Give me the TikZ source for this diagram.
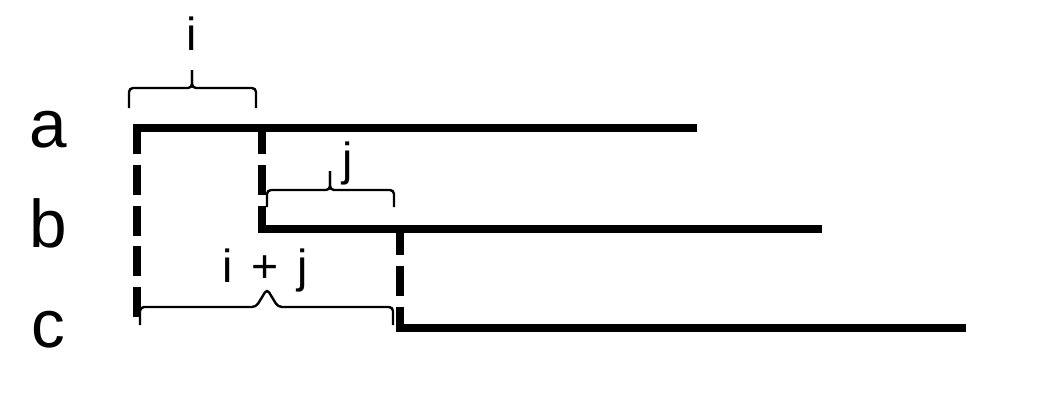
\documentclass[tikz,border=0pt]{standalone}
\usepackage{fontspec}
\setmainfont{Liberation Sans}

\tikzset{
  seg/.style={line width=0.22cm},
  drop/.style={line width=0.22cm, dash pattern=on 0.75cm off 0.27cm},
  brc/.style={line width=1.7pt, rounded corners=0.1cm},
  row/.style={font=\fontsize{48}{48}\selectfont, anchor=base},
  gap/.style={font=\fontsize{33}{33}\selectfont, anchor=base}
}

\begin{document}
\begin{tikzpicture}[x=0.025cm, y=-0.025cm]
    \useasboundingbox (0,0) rectangle (1044,414);

    % 1. row names
    \node[row] (na) at (48,147) {a};
    \node[row] (nb) at (48,247) {b};
    \node[row] (nc) at (48,347) {c};

    % 2. end points of the three lines
    \coordinate (a0) at (133,128);  \coordinate (a1) at (697,128);
    \coordinate (b0) at (258,229);  \coordinate (b1) at (822,229);
    \coordinate (c0) at (396,328);  \coordinate (c1) at (966,328);

    % 3. horizontal lines
    \draw[seg] (a0) -- (a1);
    \draw[seg] (b0) -- (b1);
    \draw[seg] (c0) -- (c1);

    % 4. dashed drops
    \coordinate (d1t) at (137,124);  \coordinate (d1b) at (137,322);
    \coordinate (d2t) at (262,124);  \coordinate (d2b) at (262,233);
    \coordinate (d3t) at (400,225);  \coordinate (d3b) at (400,332);
    \draw[drop] (d1t) -- (d1b);
    \draw[drop] (d2t) -- (d2b);
    \draw[drop] (d3t) -- (d3b);

    % 5. braces
    % brace i
    \coordinate (i0) at (129,108);  \coordinate (i1) at (256,108);
    \coordinate (im) at (192,88);   \coordinate (it) at (192,70);
    \draw[brc] (i0) |- (im) -- (it);
    \draw[brc] (it) -- (im) -| (i1);
    % brace j
    \coordinate (j0) at (267,207);  \coordinate (j1) at (394,207);
    \coordinate (jm) at (330,190);  \coordinate (jt) at (330,171);
    \draw[brc] (j0) |- (jm) -- (jt);
    \draw[brc] (jt) -- (jm) -| (j1);
    % brace i + j
    \coordinate (k0) at (140,325);  \coordinate (k1) at (393,325);
    \coordinate (kl) at (256,307);  \coordinate (kr) at (278,307);
    \coordinate (kt) at (267,289);
    \draw[brc] (k0) |- (kl) -- (kt) -- (kr) -| (k1);

    % 6. brace labels
    \node[gap] (li) at (192,50) {i};
    \node[gap] (lj) at (348,175) {j};
    \node[gap] (lk) at (265,282) {i\hspace{0.4em}+\hspace{0.4em}j};
\end{tikzpicture}
\end{document}
